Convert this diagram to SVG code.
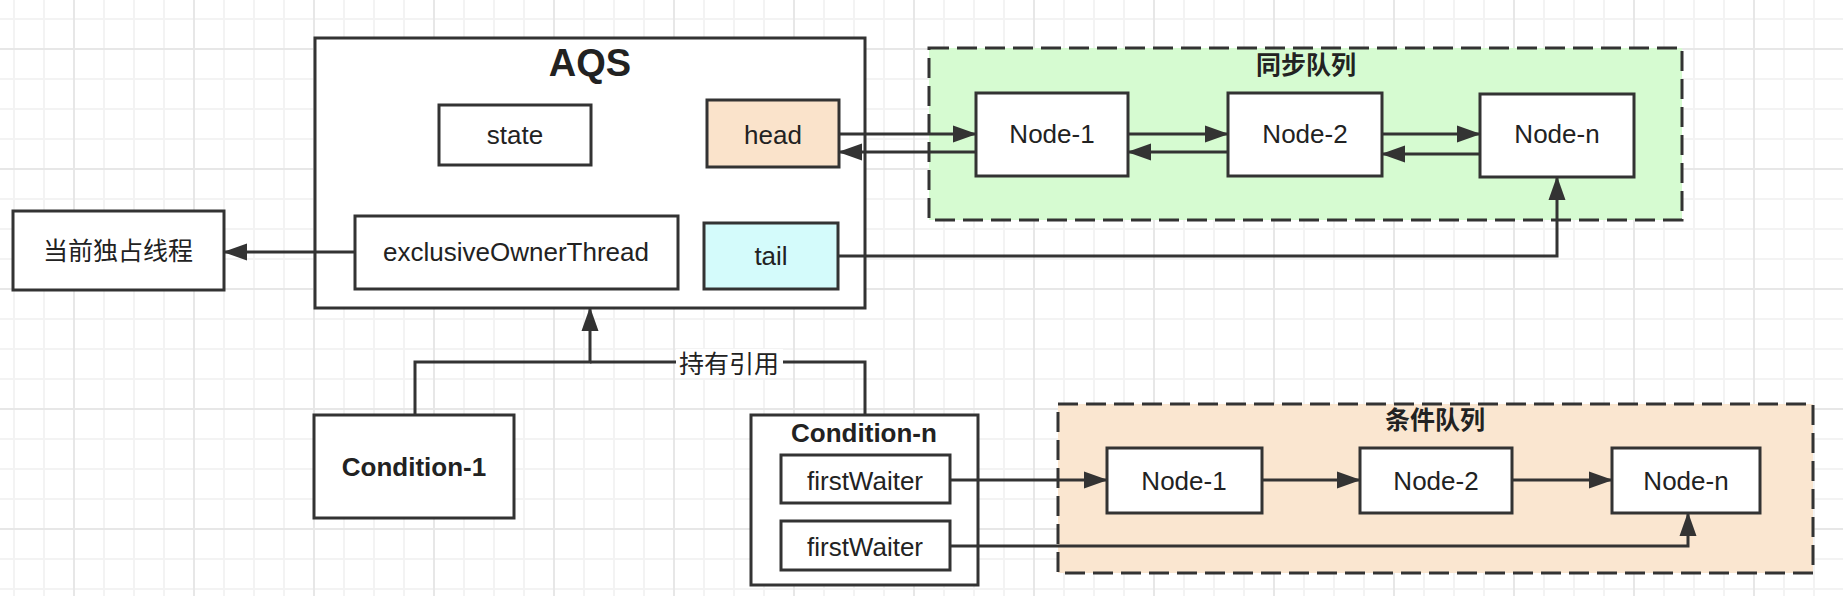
<svg xmlns="http://www.w3.org/2000/svg" width="1843" height="596" viewBox="0 0 1843 596">
  <defs>
    <pattern id="grid" patternUnits="userSpaceOnUse" x="73" y="48" width="120" height="120">
      <path d="M31,0V120M61,0V120M91,0V120M0,31H120M0,61H120M0,91H120" stroke="#f3f3f3" stroke-width="2" fill="none"/>
      <path d="M1,0V120M0,1H120" stroke="#e7e7e7" stroke-width="2" fill="none"/>
    </pattern>
    <marker id="arr" markerUnits="userSpaceOnUse" markerWidth="24" markerHeight="18" refX="23" refY="9" orient="auto" viewBox="0 0 24 18">
      <path d="M0,0.5 L24,9 L0,17.5 z" fill="#333333"/>
    </marker>
    <style>
      .box { fill: #ffffff; stroke: #333333; stroke-width: 3; }
      .cont { stroke: #333333; stroke-width: 3; stroke-dasharray: 20 8; }
      .t { font-family: "Liberation Sans", Arial, sans-serif; font-size: 26px; fill: #222222; text-anchor: middle; }
      .b { font-weight: bold; }
      .cjk { font-family: "Liberation Sans", "Noto Sans CJK SC", sans-serif; font-size: 25px; fill: #222222; text-anchor: middle; }
      .conn { fill: none; stroke: #333333; stroke-width: 3; }
    </style>
  </defs>
  <rect x="0" y="0" width="1843" height="596" fill="#ffffff"/>
  <rect x="0" y="0" width="1843" height="596" fill="url(#grid)"/>

  <!-- containers -->
  <g id="syncQueue">
    <rect class="cont" x="929" y="48" width="753" height="172" fill="#d6fbd1"/>
    <text class="cjk b" x="1306" y="74">同步队列</text>
  </g>
  <g id="condQueue">
    <rect class="cont" x="1058" y="404" width="755" height="169" fill="#fae6d0"/>
    <text class="cjk b" x="1435" y="429">条件队列</text>
  </g>

  <g id="aqs">
    <rect class="box" x="315" y="38" width="550" height="270"/>
    <text class="t b" x="590" y="76" style="font-size:38px">AQS</text>
  </g>
  <g id="state">
    <rect class="box" x="439" y="105" width="152" height="60"/>
    <text class="t" x="515" y="144">state</text>
  </g>
  <g id="head">
    <rect class="box" x="707" y="100" width="132" height="67" fill="#fae3cb" style="fill:#fae3cb"/>
    <text class="t" x="773" y="144">head</text>
  </g>
  <g id="exclusiveOwnerThread">
    <rect class="box" x="355" y="216" width="323" height="73"/>
    <text class="t" x="516" y="261">exclusiveOwnerThread</text>
  </g>
  <g id="tail">
    <rect class="box" x="704" y="223" width="134" height="66" style="fill:#d4fbfb"/>
    <text class="t" x="771" y="265">tail</text>
  </g>
  <g id="currentThread">
    <rect class="box" x="13" y="211" width="211" height="79"/>
    <text class="cjk" x="118" y="260">当前独占线程</text>
  </g>

  <g id="syncNode1">
    <rect class="box" x="976" y="93" width="152" height="83"/>
    <text class="t" x="1052" y="143">Node-1</text>
  </g>
  <g id="syncNode2">
    <rect class="box" x="1228" y="93" width="154" height="83"/>
    <text class="t" x="1305" y="143">Node-2</text>
  </g>
  <g id="syncNodeN">
    <rect class="box" x="1480" y="94" width="154" height="83"/>
    <text class="t" x="1557" y="143">Node-n</text>
  </g>

  <g id="condition1">
    <rect class="box" x="314" y="415" width="200" height="103"/>
    <text class="t b" x="414" y="476">Condition-1</text>
  </g>
  <g id="conditionN">
    <rect class="box" x="751" y="415" width="227" height="170"/>
    <text class="t b" x="864" y="442">Condition-n</text>
  </g>
  <g id="firstWaiter1">
    <rect class="box" x="781" y="455" width="169" height="48"/>
    <text class="t" x="865" y="490">firstWaiter</text>
  </g>
  <g id="firstWaiter2">
    <rect class="box" x="781" y="521" width="169" height="49"/>
    <text class="t" x="865" y="556">firstWaiter</text>
  </g>

  <g id="condNode1">
    <rect class="box" x="1107" y="448" width="155" height="65"/>
    <text class="t" x="1184" y="490">Node-1</text>
  </g>
  <g id="condNode2">
    <rect class="box" x="1360" y="448" width="152" height="65"/>
    <text class="t" x="1436" y="490">Node-2</text>
  </g>
  <g id="condNodeN">
    <rect class="box" x="1612" y="448" width="148" height="65"/>
    <text class="t" x="1686" y="490">Node-n</text>
  </g>

  <!-- connectors -->
  <g id="connectors">
    <path class="conn" d="M839,134 H976" marker-end="url(#arr)"/>
    <path class="conn" d="M976,152 H839" marker-end="url(#arr)"/>
    <path class="conn" d="M1128,134 H1228" marker-end="url(#arr)"/>
    <path class="conn" d="M1228,152 H1128" marker-end="url(#arr)"/>
    <path class="conn" d="M1382,134 H1480" marker-end="url(#arr)"/>
    <path class="conn" d="M1480,154 H1382" marker-end="url(#arr)"/>
    <path class="conn" d="M838,256 H1557 V177" marker-end="url(#arr)"/>
    <path class="conn" d="M355,252 H224" marker-end="url(#arr)"/>
    <path class="conn" d="M415,415 V362 H590 V308" marker-end="url(#arr)"/>
    <path class="conn" d="M865,415 V362 H590"/>
    <rect x="676" y="349" width="107" height="29" fill="#ffffff"/>
    <text class="cjk" x="729" y="373">持有引用</text>
    <path class="conn" d="M950,480 H1107" marker-end="url(#arr)"/>
    <path class="conn" d="M1262,480 H1360" marker-end="url(#arr)"/>
    <path class="conn" d="M1512,480 H1612" marker-end="url(#arr)"/>
    <path class="conn" d="M950,546 H1688 V513" marker-end="url(#arr)"/>
  </g>
</svg>
